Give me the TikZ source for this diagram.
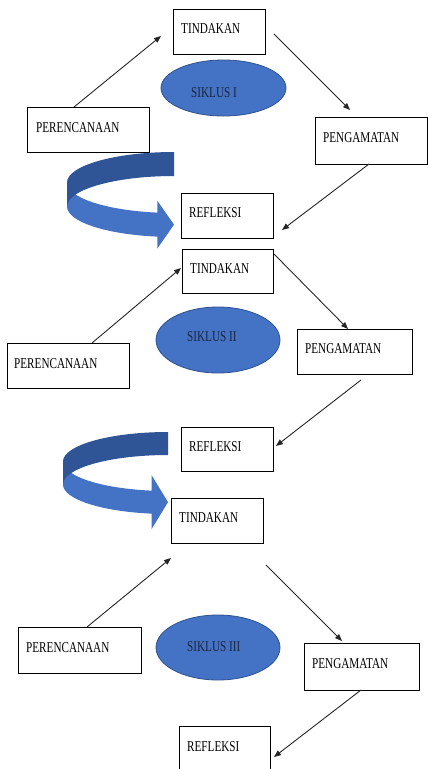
\documentclass[tikz,border=0pt]{standalone}
\usepackage{fontspec}
\newfontfamily\lab[FakeStretch=0.745]{Liberation Serif}
\usetikzlibrary{arrows.meta,shapes.geometric}
\definecolor{blueA}{HTML}{4472C4}
\definecolor{blueD}{HTML}{2F5597}
\definecolor{blueE}{HTML}{2F528F}
\definecolor{navyT}{HTML}{1B2540}
% curved ribbon arrow: cx, cy(pixel, down), rx, ry, band width, arrowhead half height
\newcommand\ribbonarrow[6]{%
  \fill[blueA] ({#1-#3},{-#2}) arc[start angle=180, end angle=261, x radius=#3, y radius=#4]
    -- ({#1+#3*cos(261)},{-#2+#4*sin(261)-#5/2+#6})
    -- ({#1},{-#2+#4*sin(261)-#5/2})
    -- ({#1+#3*cos(261)},{-#2+#4*sin(261)-#5/2-#6})
    -- ({#1+#3*cos(261)},{-#2+#4*sin(261)-#5})
    arc[start angle=261, end angle=180, x radius=#3, y radius=#4] -- cycle;
  \fill[blueD] ({#1},{-#2+#4}) arc[start angle=90, end angle=180, x radius=#3, y radius=#4]
    -- ++(0,-#5) arc[start angle=180, end angle=90, x radius=#3, y radius=#4] -- cycle;
}
\begin{document}
\begin{tikzpicture}[x=1pt,y=1pt,
  box/.style={draw=black, line width=1.1pt, fill=white, inner sep=0pt, anchor=north west},
  ell/.style={ellipse, draw=blueE, line width=0.8pt, fill=blueA, inner sep=0pt},
  txt/.style={anchor=base west, inner sep=0pt, font=\lab\fontsize{15}{18}\selectfont},
  etxt/.style={txt, text=navyT},
  conn/.style={draw=black!85, line width=0.9pt, -{Triangle[length=7pt,width=5.5pt]}},
]
\clip (0,0) rectangle (428,-769);
\fill[white] (0,0) rectangle (428,-769);

% curved arrows
\ribbonarrow{174}{182.5}{107}{30.5}{24}{24}
\ribbonarrow{168}{461.5}{105}{29.5}{23}{27}

% ---------- cycle I ----------
\node[box, minimum width=92pt, minimum height=45pt] (T1) at (173,-9) {};
\node[box, minimum width=122pt, minimum height=45pt] (P1) at (27,-107) {};
\node[box, minimum width=112pt, minimum height=47pt] (G1) at (315,-117) {};
\node[box, minimum width=92pt, minimum height=45pt] (R1) at (181,-193) {};
\node[ell, minimum width=125pt, minimum height=56pt] (S1) at (223.5,-88) {};
\node[txt] (T1t) at ([shift={(8,-24.5)}]T1.north west) {TINDAKAN};
\node[txt] (P1t) at ([shift={(9,-25)}]P1.north west) {PERENCANAAN};
\node[txt] (G1t) at ([shift={(8,-25)}]G1.north west) {PENGAMATAN};
\node[txt] (R1t) at ([shift={(8,-24)}]R1.north west) {REFLEKSI};
\node[etxt] (S1t) at (191,-97) {SIKLUS I};

\coordinate (a1) at (74,-107);  \coordinate (b1) at (161,-36);
\coordinate (c1) at (274,-34);  \coordinate (d1) at (350,-110);
\coordinate (e1) at (369,-164); \coordinate (f1) at (282,-230);
\draw[conn] (a1) -- (b1);
\draw[conn] (c1) -- (d1);
\draw[conn] (e1) -- (f1);

% ---------- cycle II ----------
\node[box, minimum width=91pt, minimum height=44pt] (T2) at (182,-249) {};
\node[box, minimum width=122pt, minimum height=45pt] (P2) at (7,-343) {};
\node[box, minimum width=115pt, minimum height=45pt] (G2) at (297,-329) {};
\node[box, minimum width=92pt, minimum height=44pt] (R2) at (181,-427) {};
\node[ell, minimum width=124pt, minimum height=66pt] (S2) at (218,-340) {};
\node[txt] (T2t) at ([shift={(8,-24.5)}]T2.north west) {TINDAKAN};
\node[txt] (P2t) at ([shift={(7,-25)}]P2.north west) {PERENCANAAN};
\node[txt] (G2t) at ([shift={(8,-24)}]G2.north west) {PENGAMATAN};
\node[txt] (R2t) at ([shift={(8,-24.5)}]R2.north west) {REFLEKSI};
\node[etxt] (S2t) at (187,-341) {SIKLUS II};

\coordinate (a2) at (92,-343);  \coordinate (b2) at (181,-268);
\coordinate (c2) at (274,-254); \coordinate (d2) at (348,-329);
\coordinate (e2) at (361,-380); \coordinate (f2) at (276,-446);
\draw[conn] (a2) -- (b2);
\draw[conn] (c2) -- (d2);
\draw[conn] (e2) -- (f2);

% ---------- cycle III ----------
\node[box, minimum width=92pt, minimum height=45pt] (T3) at (171,-498) {};
\node[box, minimum width=123pt, minimum height=46pt] (P3) at (18,-627) {};
\node[box, minimum width=115pt, minimum height=47pt] (G3) at (304,-643) {};
\node[box, minimum width=91pt, minimum height=60pt] (R3) at (179,-726) {};
\node[ell, minimum width=124pt, minimum height=65pt] (S3) at (218,-647.5) {};
\node[txt] (T3t) at ([shift={(8,-24)}]T3.north west) {TINDAKAN};
\node[txt] (P3t) at ([shift={(8,-25)}]P3.north west) {PERENCANAAN};
\node[txt] (G3t) at ([shift={(8,-25)}]G3.north west) {PENGAMATAN};
\node[txt] (R3t) at ([shift={(8,-25)}]R3.north west) {REFLEKSI};
\node[etxt] (S3t) at (187,-651) {SIKLUS III};

\coordinate (a3) at (87,-627);  \coordinate (b3) at (171,-558);
\coordinate (c3) at (266,-565); \coordinate (d3) at (342,-641);
\coordinate (e3) at (361,-690); \coordinate (f3) at (274,-757);
\draw[conn] (a3) -- (b3);
\draw[conn] (c3) -- (d3);
\draw[conn] (e3) -- (f3);
\end{tikzpicture}
\end{document}
